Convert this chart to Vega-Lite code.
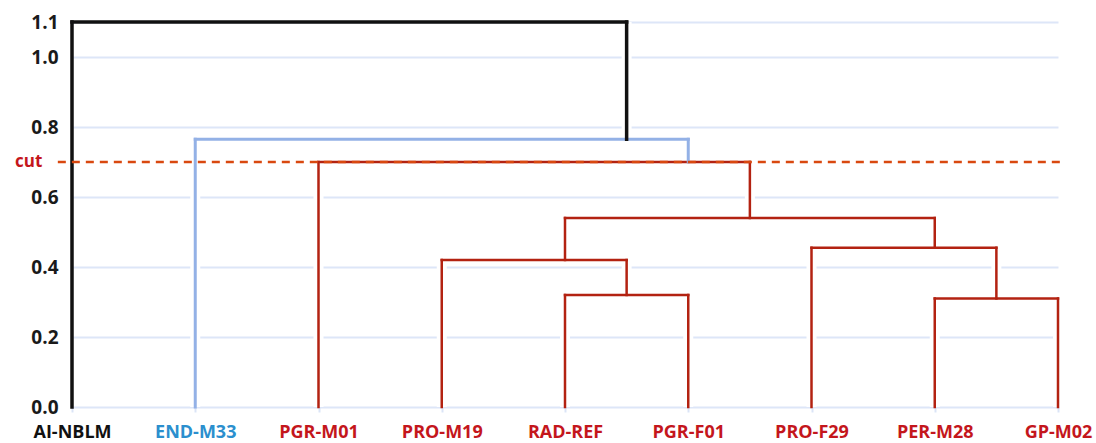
{
  "$schema": "https://vega.github.io/schema/vega-lite/v6.json",
  "autosize": "none",
  "width": 986,
  "height": 385,
  "padding": {"left": 72, "top": 22, "right": 38, "bottom": 36},
  "background": "white",
  "config": {
    "view": {"stroke": null},
    "font": "Open Sans"
  },
  "datasets": {
    "links": [
      {"node": "A", "x1": 4, "y1": 0, "x2": 4, "y2": 0.32, "grp": "red", "dir": "v"},
      {"node": "A", "x1": 5, "y1": 0, "x2": 5, "y2": 0.32, "grp": "red", "dir": "v"},
      {"node": "A", "x1": 4, "y1": 0.32, "x2": 5, "y2": 0.32, "grp": "red", "dir": "h"},
      {"node": "B", "x1": 7, "y1": 0, "x2": 7, "y2": 0.31, "grp": "red", "dir": "v"},
      {"node": "B", "x1": 8, "y1": 0, "x2": 8, "y2": 0.31, "grp": "red", "dir": "v"},
      {"node": "B", "x1": 7, "y1": 0.31, "x2": 8, "y2": 0.31, "grp": "red", "dir": "h"},
      {"node": "C", "x1": 3, "y1": 0, "x2": 3, "y2": 0.42, "grp": "red", "dir": "v"},
      {"node": "C", "x1": 4.5, "y1": 0.32, "x2": 4.5, "y2": 0.42, "grp": "red", "dir": "v"},
      {"node": "C", "x1": 3, "y1": 0.42, "x2": 4.5, "y2": 0.42, "grp": "red", "dir": "h"},
      {"node": "D", "x1": 6, "y1": 0, "x2": 6, "y2": 0.455, "grp": "red", "dir": "v"},
      {"node": "D", "x1": 7.5, "y1": 0.31, "x2": 7.5, "y2": 0.455, "grp": "red", "dir": "v"},
      {"node": "D", "x1": 6, "y1": 0.455, "x2": 7.5, "y2": 0.455, "grp": "red", "dir": "h"},
      {"node": "E", "x1": 4, "y1": 0.42, "x2": 4, "y2": 0.54, "grp": "red", "dir": "v"},
      {"node": "E", "x1": 7, "y1": 0.455, "x2": 7, "y2": 0.54, "grp": "red", "dir": "v"},
      {"node": "E", "x1": 4, "y1": 0.54, "x2": 7, "y2": 0.54, "grp": "red", "dir": "h"},
      {"node": "F", "x1": 2, "y1": 0, "x2": 2, "y2": 0.70, "grp": "red", "dir": "v"},
      {"node": "F", "x1": 5.5, "y1": 0.54, "x2": 5.5, "y2": 0.70, "grp": "red", "dir": "v"},
      {"node": "F", "x1": 2, "y1": 0.70, "x2": 5.5, "y2": 0.70, "grp": "red", "dir": "h"},
      {"node": "G", "x1": 1, "y1": 0, "x2": 1, "y2": 0.765, "grp": "blue", "dir": "v"},
      {"node": "G", "x1": 5, "y1": 0.70, "x2": 5, "y2": 0.765, "grp": "blue", "dir": "v"},
      {"node": "G", "x1": 1, "y1": 0.765, "x2": 5, "y2": 0.765, "grp": "blue", "dir": "h"},
      {"node": "H", "x1": 0, "y1": 0, "x2": 0, "y2": 1.1, "grp": "black", "dir": "v"},
      {"node": "H", "x1": 4.5, "y1": 0.765, "x2": 4.5, "y2": 1.1, "grp": "black", "dir": "v"},
      {"node": "H", "x1": 0, "y1": 1.1, "x2": 4.5, "y2": 1.1, "grp": "black", "dir": "h"}
    ],
    "cut": [{"height": 0.7, "from": -0.115, "to": 8.04, "label": "cut", "labelPos": -0.24}]
  },
  "layer": [
    {
      "data": {"name": "links"},
      "transform": [{"filter": "datum.dir == 'v' && datum.x1 > 0"}],
      "mark": {"type": "rule", "stroke": "white", "strokeWidth": 10},
      "encoding": {
        "x": {"field": "x1", "type": "quantitative"},
        "x2": {"field": "x2"},
        "y": {"field": "y1", "type": "quantitative"},
        "y2": {"field": "y2"}
      }
    },
    {
      "data": {"name": "links"},
      "mark": {"type": "rule", "strokeCap": "square", "clip": false},
      "encoding": {
        "x": {
          "field": "x1", "type": "quantitative",
          "scale": {"domain": [0, 8], "nice": false, "zero": false},
          "axis": {
            "values": [0, 1, 2, 3, 4, 5, 6, 7, 8],
            "title": null,
            "grid": false,
            "domain": false,
            "ticks": true,
            "tickSize": 5,
            "tickColor": "#dbe4f6",
            "tickWidth": 2,
            "labelPadding": 11,
            "labelFont": "Open Sans",
            "labelFontSize": 18,
            "labelFontWeight": "bold",
            "labelFlush": false,
            "labelExpr": "['AI-NBLM','END-M33','PGR-M01','PRO-M19','RAD-REF','PGR-F01','PRO-F29','PER-M28','GP-M02'][datum.value]",
            "labelColor": {"expr": "datum.value == 0 ? '#111111' : (datum.value == 1 ? '#2b8fce' : '#c4161c')"}
          }
        },
        "x2": {"field": "x2"},
        "y": {
          "field": "y1", "type": "quantitative",
          "scale": {"domain": [0, 1.1], "nice": false, "zero": true},
          "axis": {
            "values": [0, 0.2, 0.4, 0.6, 0.8, 1.0, 1.1],
            "title": null,
            "domain": false,
            "ticks": false,
            "grid": true,
            "gridColor": "#dde6f8",
            "gridWidth": 2,
            "labelPadding": 14,
            "labelFont": "Open Sans",
            "labelFontSize": 19,
            "labelFontWeight": "bold",
            "labelFlush": false,
            "format": ".1f",
            "labelColor": "#1a1a1a"
          }
        },
        "y2": {"field": "y2"},
        "color": {
          "field": "grp", "type": "nominal",
          "scale": {"domain": ["black", "blue", "red"], "range": ["#111111", "#93b1e6", "#b32211"]},
          "legend": null
        },
        "strokeWidth": {
          "field": "grp", "type": "nominal",
          "scale": {"domain": ["black", "blue", "red"], "range": [3.5, 2.5, 2.5]},
          "legend": null
        }
      }
    },
    {
      "data": {"name": "cut"},
      "mark": {"type": "rule", "stroke": "#d9480f", "strokeWidth": 2.5, "strokeDash": [8, 6], "clip": false},
      "encoding": {
        "x": {"field": "from", "type": "quantitative"},
        "x2": {"field": "to"},
        "y": {"field": "height", "type": "quantitative"}
      }
    },
    {
      "data": {"name": "cut"},
      "mark": {"type": "text", "align": "right", "baseline": "middle", "font": "Open Sans", "fontSize": 17, "fontWeight": "bold", "color": "#c4161c", "clip": false},
      "encoding": {
        "x": {"field": "labelPos", "type": "quantitative"},
        "y": {"field": "height", "type": "quantitative"},
        "text": {"field": "label"}
      }
    }
  ]
}
